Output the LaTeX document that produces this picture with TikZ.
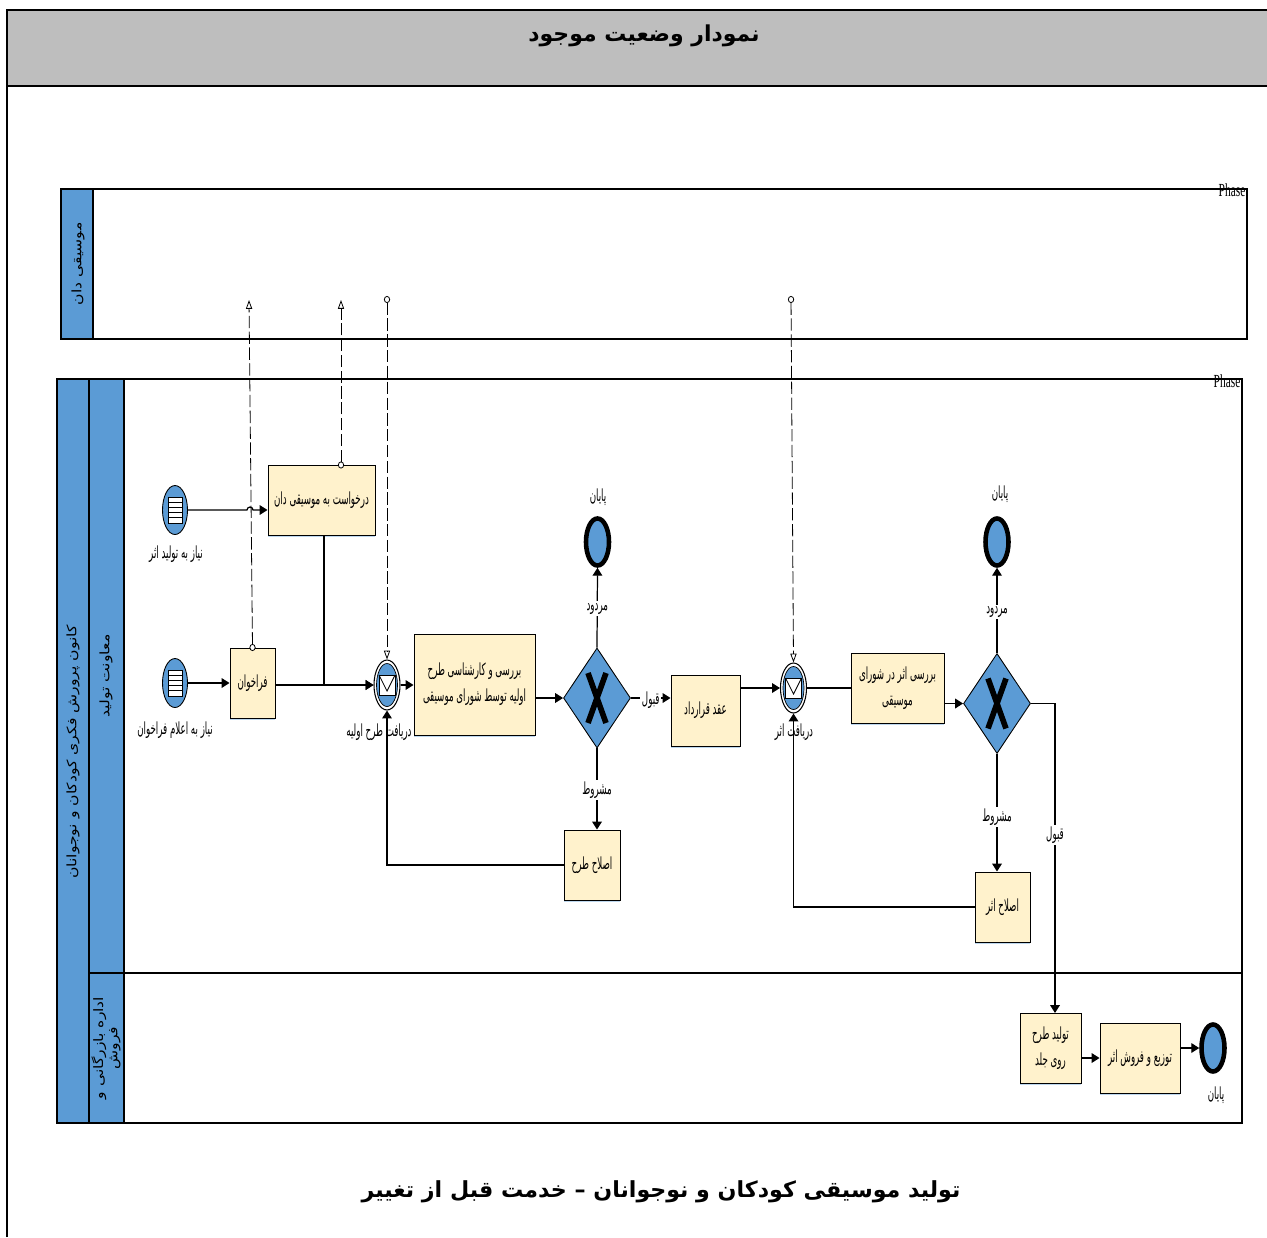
\documentclass[tikz,border=0pt]{standalone}
\usepackage{fontspec}
\usepackage{xcolor}
\usepackage{tikz}
\usetikzlibrary{shapes.geometric, arrows.meta, calc, shadows}
\TeXXeTstate=1
\setmainfont{Liberation Serif}
\newfontfamily\arabicfont[Script=Arabic]{DejaVu Sans}
\newfontfamily\narrowfont[Script=Arabic,FakeStretch=0.52]{DejaVu Sans}
\newfontfamily\laneFont[Script=Arabic,FakeStretch=1.2]{DejaVu Sans}
\newfontfamily\phasefont[FakeStretch=0.62]{Liberation Serif}
\newcommand{\fa}[1]{\beginR #1\endR}
\definecolor{bpmnBlue}{RGB}{91, 155, 213}
\definecolor{taskFill}{RGB}{255, 242, 204}
\definecolor{headGray}{RGB}{190, 190, 190}
\tikzset{
    pxsize/.style 2 args={minimum width=#1*0.02cm, minimum height=#2*0.02cm},
    task/.style={draw=black, line width=0.55pt, fill=taskFill, inner sep=0pt, align=center,
        font=\narrowfont\fontsize{9.5}{15}\selectfont,
        drop shadow={shadow xshift=0pt, shadow yshift=-1.2pt, fill=bpmnBlue, opacity=0.4}},
    eventbase/.style={ellipse, inner sep=0pt, draw=black},
    startev/.style={eventbase, pxsize={25}{49}, fill=bpmnBlue, line width=0.5pt},
    endev/.style={eventbase, pxsize={23}{47}, fill=bpmnBlue, line width=2.6pt},
    ringev/.style={eventbase, pxsize={26}{50}, fill=white, line width=0.6pt},
    ringin/.style={eventbase, pxsize={21}{43}, fill=bpmnBlue, line width=0.4pt},
    gate/.style={diamond, aspect=0.67, inner sep=0pt, draw=black, line width=0.5pt, fill=bpmnBlue, pxsize={67}{100}},
    xmark/.style={line width=3.2pt, black},
    label/.style={font=\narrowfont\fontsize{9.5}{10}\selectfont, inner sep=1pt, yshift=-1pt},
    flowlabel/.style={label, fill=white},
    lanelabel/.style={font=\laneFont\fontsize{7.4}{8}\selectfont, rotate=90, align=center, inner sep=0pt},
    phaselabel/.style={font=\phasefont\fontsize{10.5}{11}\selectfont, inner sep=0pt},
    flow/.style={line width=0.7pt, -{Triangle[length=4.5pt, width=5.5pt]}},
    plainflow/.style={line width=0.7pt},
    msgflow/.style={line width=0.45pt, dash pattern=on 7pt off 2pt,
        {Circle[open, fill=white, length=4pt, width=3.5pt]}-{Triangle[open, length=5pt, width=3.5pt]}},
    poolline/.style={line width=0.9pt, draw=black},
    headbar/.style={line width=0.6pt, draw=black, fill=bpmnBlue}
}

\begin{document}
\begin{tikzpicture}[x=0.02cm, y=-0.02cm]
\useasboundingbox (0,0) rectangle (1267,1237);

\fill[headGray] (7,10) rectangle (1267,86);
\draw[line width=1.2pt] (7,1237) -- (7,10) -- (1267,10);
\draw[line width=1.2pt] (7,86) -- (1267,86);
\node[font=\arabicfont\bfseries\fontsize{12.5}{15}\selectfont] (title) at (644,36) {\fa{نمودار وضعیت موجود}};
\node[font=\arabicfont\bfseries\fontsize{12.6}{15}\selectfont] (caption) at (661,1192) {\fa{تولید موسیقی کودکان و نوجوانان – خدمت قبل از تغییر}};

\draw[poolline] (61,189) rectangle (1247,339);
\draw[headbar] (61,189) rectangle (93,339);
\node[lanelabel] (poolMusician) at (78,264) {\fa{موسیقی دان}};
\node[phaselabel] (phaseA) at (1232,190) {Phase};

\draw[poolline] (57,379) rectangle (1242,1123);
\draw[line width=0.6pt] (89,973) -- (1242,973);
\draw[headbar] (57,379) rectangle (89,1123);
\draw[headbar] (89,379) rectangle (124,973);
\draw[headbar] (89,973) rectangle (124,1123);
\node[lanelabel] (poolKanoon) at (73,752) {\fa{کانون پرورش فکری کودکان و نوجوانان}};
\node[lanelabel] (laneProd) at (106,676) {\fa{معاونت تولید}};
\node[lanelabel] (laneSales) at (106,1048) {\fa{اداره بازرگانی و}\\\fa{فروش}};
\node[phaselabel] (phaseB) at (1227,381) {Phase};

\node[startev] (startNeed) at (175,510) {};
\node[startev] (startCall) at (175,683) {};
\foreach \ev in {startNeed,startCall} {
    \draw[fill=white, line width=0.5pt] ($(\ev.center)+(-7,-13)$) rectangle ($(\ev.center)+(7,13)$);
    \foreach \k in {-8,-3,2,7} {
        \draw[line width=0.5pt] ($(\ev.center)+(-7,\k)$) -- ($(\ev.center)+(7,\k)$);
    }
}

\node[task, pxsize={107}{70}] (request) at (321.5,500) {\fa{درخواست به موسیقی دان}};
\node[task, pxsize={45}{70}] (call) at (252.5,683) {\fa{فراخوان}};
\node[task, pxsize={121}{101}] (review) at (474.5,684.5) {\fa{بررسی و کارشناسی طرح}\\\fa{اولیه توسط شورای موسیقی}};
\node[task, pxsize={56}{70}] (fixPlan) at (592,865) {\fa{اصلاح طرح}};
\node[task, pxsize={69}{71}] (contract) at (705.5,710.5) {\fa{عقد قرارداد}};
\node[task, pxsize={93}{70}] (council) at (897.5,688) {\fa{بررسی اثر در شورای}\\\fa{موسیقی}};
\node[task, pxsize={55}{70}] (fixWork) at (1002.5,907) {\fa{اصلاح اثر}};
\node[task, pxsize={61}{70}] (cover) at (1050.5,1048) {\fa{تولید طرح}\\\fa{روی جلد}};
\node[task, pxsize={80}{70}] (sale) at (1140,1058) {\fa{توزیع و فروش اثر}};

\node[ringev] (recvPlan) at (387,685) {};
\node[ringev] (recvWork) at (793.5,688) {};
\foreach \ev in {recvPlan,recvWork} {
    \node[ringin] at (\ev.center) {};
    \draw[fill=white, line width=0.5pt] ($(\ev.center)+(-8,-10)$) rectangle ($(\ev.center)+(8,10)$);
    \draw[line width=0.5pt] ($(\ev.center)+(-8,-10)$) -- ($(\ev.center)+(0,6)$) -- ($(\ev.center)+(8,-10)$);
}

\node[gate] (gateA) at (597,698) {};
\node[gate] (gateB) at (997,703.5) {};
\foreach \g in {gateA,gateB} {
    \draw[xmark] ($(\g.center)+(-9,-25)$) -- ($(\g.center)+(9,25)$);
    \draw[xmark] ($(\g.center)+(9,-25)$) -- ($(\g.center)+(-9,25)$);
}

\node[endev] (endA) at (597.5,542) {};
\node[endev] (endB) at (997,542) {};
\node[endev] (endC) at (1213,1048) {};

\coordinate (requestOut) at (324,535);
\coordinate (coverIn) at (1055,1013);
\coordinate (requestTop) at (341,465);
\coordinate (msgCall) at (249,300);
\coordinate (msgRequest) at (341,300);
\coordinate (msgPlan) at (387,296);
\coordinate (msgWork) at (791,296);

\draw[flow] (startNeed.east) -- (247,510) arc[start angle=180, end angle=0, x radius=3, y radius=-3] -- (request.west |- startNeed.east);
\draw[flow] (startCall.east) -- (call.west);
\draw[flow, line width=0.85pt] (call.east |- recvPlan.west) -- (recvPlan.west);
\draw[flow, line width=0.85pt] (requestOut) |- (recvPlan.west);
\draw[flow] (recvPlan.east) -- (review.west |- recvPlan.east);
\draw[flow] (review.east |- gateA.west) -- (gateA.west);
\draw[flow] (gateA.north) -- node[flowlabel, pos=.51] (rejectA) {\fa{مردود}} (endA.south);
\draw[flow] (gateA.south) -- node[flowlabel, pos=.49] (condA) {\fa{مشروط}} (gateA.south |- fixPlan.north);
\draw[flow] (gateA.east) -- node[flowlabel, pos=.5] (okA) {\fa{قبول}} (contract.west |- gateA.east);
\draw[flow] (fixPlan.west) -| (recvPlan.south);
\draw[flow] (contract.east |- recvWork.west) -- (recvWork.west);
\draw[plainflow] (recvWork.east) -- (council.west);
\draw[flow] (council.east |- gateB.west) -- (gateB.west);
\draw[flow] (gateB.north) -- node[flowlabel, pos=.5] (rejectB) {\fa{مردود}} (endB.south);
\draw[flow] (gateB.south) -- node[flowlabel, pos=.52] (condB) {\fa{مشروط}} (gateB.south |- fixWork.north);
\draw[flow] (gateB.east) -| node[flowlabel, pos=.71] (okB) {\fa{قبول}} (coverIn);
\draw[flow] (fixWork.west) -| (recvWork.south);
\draw[flow] (cover.east |- sale.west) -- (sale.west);
\draw[flow] (sale.east |- endC.west) -- (endC.west);

\draw[msgflow, shorten <=-2pt] (call.north) -- (msgCall);
\draw[msgflow, shorten <=-2pt] (requestTop) -- (msgRequest);
\draw[msgflow] (msgPlan) -- (recvPlan.north);
\draw[msgflow] (msgWork) -- (recvWork.north);

\node[label] (needWork) at (176,552) {\fa{نیاز به تولید اثر}};
\node[label] (needCall) at (175,728) {\fa{نیاز به اعلام فراخوان}};
\node[label] (recvPlanLabel) at (379,730) {\fa{دریافت طرح اولیه}};
\node[label] (recvWorkLabel) at (794,730) {\fa{دریافت اثر}};
\node[label] (endLabelA) at (598,495) {\fa{پایان}};
\node[label] (endLabelB) at (1000,492) {\fa{پایان}};
\node[label] (endLabelC) at (1216,1093) {\fa{پایان}};
\end{tikzpicture}
\end{document}
